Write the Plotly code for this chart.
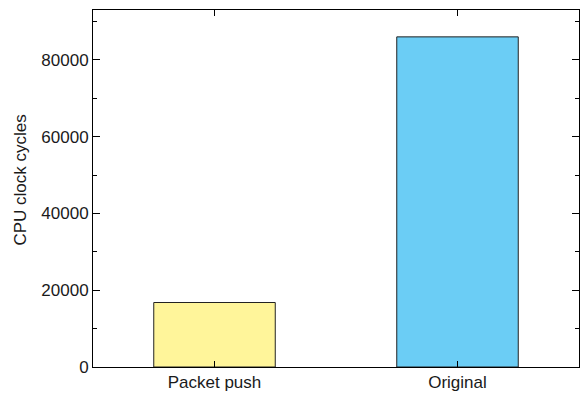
import plotly.graph_objects as go

categories = ["Packet push", "Original"]
cycles = [16800, 86000]
bar_colors = ["#FFF59A", "#6BCDF5"]
y_tick_values = [0, 20000, 40000, 60000, 80000]
y_tick_labels = ["0", "20000", "40000", "60000", "80000"]
y_title = "CPU clock cycles"

fig = go.Figure()
fig.add_trace(go.Bar(
    x=categories,
    y=cycles,
    width=0.5,
    marker=dict(color=bar_colors, line=dict(color="#222222", width=1)),
    showlegend=False,
))

font = dict(family="Liberation Sans, Arial, Helvetica, sans-serif", size=17, color="#1a1a1a")

fig.update_layout(
    width=587, height=395,
    margin=dict(l=93, r=8, t=10, b=28),
    paper_bgcolor="white", plot_bgcolor="white",
    font=font,
    bargap=0.5,
)
fig.update_xaxes(
    range=[-0.5, 1.5],
    automargin=False,
    showline=True, linecolor="black", linewidth=1, mirror="ticks",
    ticks="inside", ticklen=6, tickcolor="black", tickwidth=1,
    showgrid=False, zeroline=False,
    tickfont=font,
)
fig.update_yaxes(
    range=[0, 93000],
    automargin=False,
    tickvals=y_tick_values, ticktext=y_tick_labels,
    showline=True, linecolor="black", linewidth=1, mirror="ticks",
    ticks="inside", ticklen=7, tickcolor="black", tickwidth=1,
    minor=dict(dtick=10000, tick0=0, ticks="inside", ticklen=4, tickcolor="black", showgrid=False),
    showgrid=False, zeroline=False,
    tickfont=font,
)
fig.add_annotation(
    text=y_title, textangle=-90, showarrow=False,
    xref="paper", yref="paper", x=-0.149, y=0.524,
    xanchor="center", yanchor="middle", font=font,
)

fig.write_html("out.html")
